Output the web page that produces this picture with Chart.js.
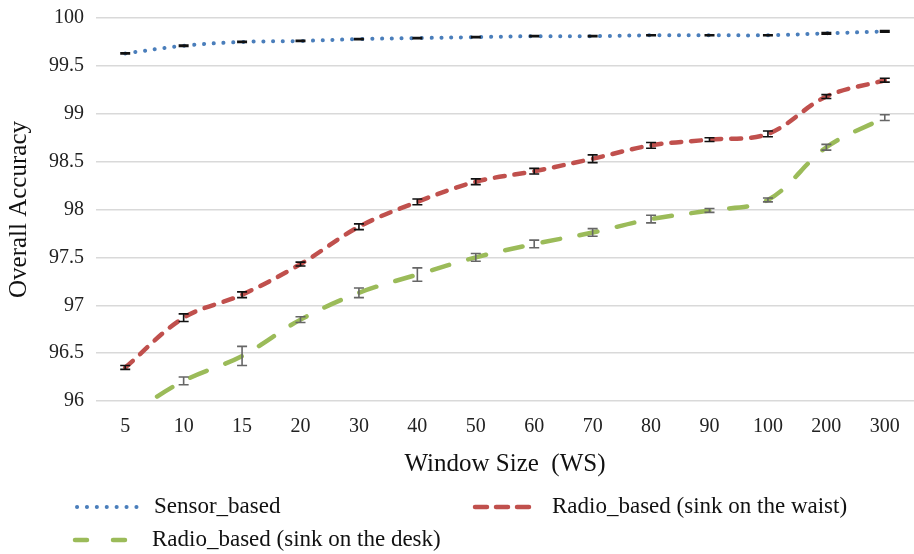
<!DOCTYPE html>
<html>
<head>
<meta charset="utf-8">
<script src="https://cdn.jsdelivr.net/npm/chart.js@4.4.1/dist/chart.umd.min.js"></script>
<style>
  html, body { margin: 0; padding: 0; background: #fff; overflow: hidden; }
  #wrap { width: 914px; height: 560px; margin-top: -6px; }
</style>
</head>
<body>
<div id="wrap"><canvas id="accChart"></canvas></div>
<script>
// window sizes (categories)
const windowSizes = ['5', '10', '15', '20', '30', '40', '50', '60', '70', '80', '90', '100', '200', '300'];

// accuracy values
const sensorBased = [99.63, 99.71, 99.75, 99.76, 99.78, 99.79, 99.80, 99.81, 99.81, 99.82, 99.82, 99.82, 99.84, 99.86];
const radioWaist  = [96.35, 96.87, 97.11, 97.43, 97.82, 98.08, 98.29, 98.40, 98.53, 98.67, 98.73, 98.79, 99.18, 99.35];
const radioDesk   = [95.83, 96.21, 96.47, 96.85, 97.13, 97.32, 97.50, 97.64, 97.76, 97.90, 97.99, 98.10, 98.65, 98.96];

// error bar half-widths
const sensorErr = [0.006, 0.008, 0.006, 0.006, 0.006, 0.006, 0.006, 0.006, 0.006, 0.005, 0.005, 0.005, 0.008, 0.008];
const waistErr  = [0.02, 0.04, 0.03, 0.02, 0.03, 0.03, 0.03, 0.03, 0.04, 0.03, 0.02, 0.03, 0.02, 0.02];
const deskErr   = [0.02, 0.04, 0.10, 0.03, 0.05, 0.07, 0.04, 0.04, 0.04, 0.04, 0.02, 0.02, 0.03, 0.03];

const yTicks = { min: 96, max: 100, step: 0.5 };

const serif = "'Liberation Serif', 'Times New Roman', serif";

// error bars drawn from each dataset's err array
const errorBars = {
    id: 'errorBars',
    afterDatasetsDraw(chart) {
        const ctx = chart.ctx;
        const yScale = chart.scales.y;
        const area = chart.chartArea;
        ctx.save();
        ctx.beginPath();
        ctx.rect(area.left, area.top - 5, area.right - area.left, area.bottom - area.top + 10);
        ctx.clip();
        chart.data.datasets.forEach((ds, i) => {
            const meta = chart.getDatasetMeta(i);
            ctx.strokeStyle = ds.errColor;
            ctx.lineWidth = 1.6;
            meta.data.forEach((pt, j) => {
                const v = ds.data[j];
                const e = ds.err[j];
                if (v < yTicks.min) return;
                const yTop = yScale.getPixelForValue(v + e);
                const yBot = yScale.getPixelForValue(v - e);
                const x = pt.x;
                ctx.beginPath();
                ctx.moveTo(x, yTop); ctx.lineTo(x, yBot);
                ctx.moveTo(x - 5, yTop); ctx.lineTo(x + 5, yTop);
                ctx.moveTo(x - 5, yBot); ctx.lineTo(x + 5, yBot);
                ctx.stroke();
            });
        });
        ctx.restore();
    }
};

// two-column legend like the original
const gridLegend = {
    id: 'gridLegend',
    afterDraw(chart) {
        const ctx = chart.ctx;
        const h = chart.height;
        const slots = [
            { x: 77, y: h - 47 },
            { x: 475, y: h - 47 },
            { x: 75, y: h - 14 }
        ];
        ctx.save();
        chart.data.datasets.forEach((ds, i) => {
            const s = slots[i];
            ctx.strokeStyle = ds.borderColor;
            ctx.lineWidth = ds.borderWidth;
            ctx.lineCap = 'round';
            ctx.setLineDash(ds.legendDash);
            ctx.beginPath();
            ctx.moveTo(s.x, s.y);
            ctx.lineTo(s.x + 62, s.y);
            ctx.stroke();
            ctx.setLineDash([]);
            ctx.fillStyle = '#111';
            ctx.font = '23px ' + serif;
            ctx.textBaseline = 'middle';
            ctx.fillText(ds.label, s.x + 77, s.y);
        });
        ctx.restore();
    }
};

const accChart = new Chart(document.getElementById('accChart'), {
    type: 'line',
    data: {
        labels: windowSizes,
        datasets: [
            {
                label: 'Sensor_based',
                data: sensorBased,
                err: sensorErr,
                errColor: '#111',
                borderColor: '#4a7ebb',
                borderWidth: 4,
                borderDash: [0.1, 9.8],
                legendDash: [0.1, 9.8],
                borderCapStyle: 'round',
                pointRadius: 0,
                tension: 0.35
            },
            {
                label: 'Radio_based (sink on the waist)',
                data: radioWaist,
                err: waistErr,
                errColor: '#111',
                borderColor: '#c0504d',
                borderWidth: 4.5,
                borderDash: [10, 10],
                legendDash: [12, 9],
                borderCapStyle: 'round',
                pointRadius: 0,
                tension: 0.35
            },
            {
                label: 'Radio_based (sink on the desk)',
                data: radioDesk,
                err: deskErr,
                errColor: '#666',
                borderColor: '#9bbb59',
                borderWidth: 4.5,
                borderDash: [18, 20],
                legendDash: [12, 26],
                borderCapStyle: 'round',
                pointRadius: 0,
                tension: 0.35
            }
        ]
    },
    options: {
        responsive: true,
        maintainAspectRatio: false,
        animation: false,
        layout: { padding: { top: 1, right: 0, left: 4, bottom: 75 } },
        plugins: {
            legend: { display: false },
            tooltip: { enabled: false }
        },
        scales: {
            x: {
                offset: true,
                grid: { display: false, drawTicks: false },
                border: { display: false },
                ticks: { color: '#222', font: { family: serif, size: 20 }, padding: 14 },
                title: {
                    display: true,
                    text: 'Window Size  (WS)',
                    color: '#111',
                    font: { family: serif, size: 25 },
                    padding: { top: -4, bottom: 0 }
                }
            },
            y: {
                min: yTicks.min,
                max: yTicks.max,
                grid: { color: '#d9d9d9', lineWidth: 1.5, drawTicks: false },
                border: { display: false },
                ticks: {
                    stepSize: yTicks.step,
                    color: '#222',
                    font: { family: serif, size: 20 },
                    padding: 12,
                    callback: (v) => String(Math.round(v * 10) / 10)
                },
                title: {
                    display: true,
                    text: 'Overall Accuracy',
                    color: '#111',
                    font: { family: serif, size: 25 },
                    padding: { top: 0, bottom: 3 }
                }
            }
        }
    },
    plugins: [errorBars, gridLegend]
});
</script>
</body>
</html>
